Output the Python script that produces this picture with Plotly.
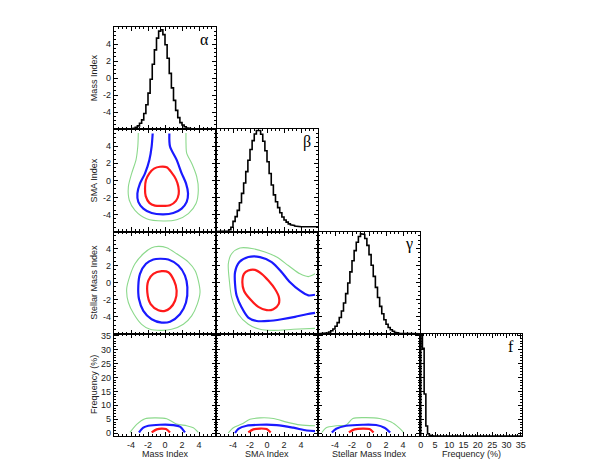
import numpy as np
import plotly.graph_objects as go
from plotly.subplots import make_subplots

# ---------------- data ----------------
param_names = ["Mass Index", "SMA Index", "Stellar Mass Index", "Frequency (%)"]
diag_labels = ["α", "β", "γ", "f"]

idx_tickvals = [-4, -2, 0, 2, 4]
idx_ticktext = ["-4", "-2", "0", "2", "4"]
freq_tickvals = [0, 5, 10, 15, 20, 25, 30, 35]
freq_ticktext = ["0", "5", "10", "15", "20", "25", "30", "35"]

# histogram bins for the three index parameters (bin width 0.25 on [-6, 6])
idx_bin_edges = np.linspace(-6, 6, 49)

alpha_hist = [0, 0, 0, 0, 0, 0, 0.01, 0.03, 0.06, 0.12, 0.22, 0.4, 0.7, 1.1, 1.84, 2.88,
              4.24, 5.87, 7.63, 9.32, 10.69, 11.52, 11.67, 11.1, 9.92, 8.33, 6.56, 4.86, 3.39,
              2.21, 1.36, 0.78, 0.5, 0.3, 0.17, 0.09, 0.04, 0.02, 0.01, 0, 0, 0, 0, 0, 0, 0,
              0, 0]

beta_hist = [0, 0, 0, 0, 0, 0.05, 0.2, 0.5, 1.19, 1.75, 2.48, 3.38, 4.47, 5.7, 7.03, 8.36,
             9.62, 10.67, 11.45, 11.85, 11.85, 11.41, 10.6, 9.48, 8.19, 6.81, 5.45, 4.3, 3.5, 2.8,
             2.2, 1.7, 1.35, 1.1, 0.9, 0.78, 0.7, 0.64, 0.6, 0.57, 0.55, 0.55, 0.55, 0.55, 0.55,
             0.55, 0.55, 0.55]

gamma_hist = [0.01, 0.02, 0.04, 0.07, 0.12, 0.21, 0.35, 0.56, 0.88, 1.31, 1.91, 2.67, 3.61,
              4.71, 5.95, 7.26, 8.56, 9.75, 10.73, 11.41, 11.73, 11.65, 11.18, 10.37, 9.29,
              8.04, 6.73, 5.44, 4.25, 3.21, 2.34, 1.65, 1.12, 0.74, 0.47, 0.29, 0.17, 0.1,
              0.055, 0.03, 0.015, 0.01, 0, 0, 0, 0, 0, 0]

# frequency histogram (bin width 0.6 %)
freq_bin_edges = np.arange(0, 35.41, 0.6)
freq_hist = [36.5, 31.4, 15.0, 3.6, 0.8, 0.25, 0.08] + [0] * 52

# 2-D credible contours: (x, y) points
mass_sma_red = [(-0.59, 1.6), (-1.29, 1.38), (-1.84, 0.83), (-2.24, 0.04), (-2.35, -0.95),
                (-2.27, -1.85), (-1.84, -2.64), (-1.18, -2.96), (-0.39, -3.0), (0.59, -2.92),
                (1.29, -2.41), (1.61, -1.62), (1.57, -0.75), (1.29, 0.12), (0.78, 0.91),
                (0.2, 1.54), (-0.59, 1.6)]
mass_sma_blue = [(-1.45, 5.5), (-1.57, 4.0), (-1.84, 2.4), (-2.35, 0.83), (-2.94, -0.36),
                 (-3.25, -1.54), (-3.14, -2.52), (-2.55, -3.31), (-1.57, -3.83), (-0.2, -3.98),
                 (0.98, -3.83), (1.96, -3.31), (2.55, -2.52), (2.71, -1.54), (2.47, -0.36),
                 (1.96, 0.83), (1.37, 2.41), (0.59, 3.98), (0.51, 5.5)]
mass_sma_green = [(-3.14, 5.56), (-3.2, 4.0), (-3.41, 2.41), (-3.92, 0.83), (-4.31, -0.75),
                  (-4.2, -2.33), (-3.53, -3.51), (-2.16, -4.5), (-0.2, -4.77), (1.37, -4.62),
                  (2.75, -3.9), (3.65, -2.72), (3.92, -1.14), (3.73, 0.43), (3.14, 2.01),
                  (2.55, 3.2), (2.47, 4.38), (2.47, 5.56)]

mass_star_red = [(-0.39, 1.34), (0.39, 1.22), (1.06, 0.24), (1.37, -0.95), (1.18, -2.13),
                 (0.59, -3.0), (0.0, -3.31), (-0.78, -3.23), (-1.69, -2.52), (-2.08, -1.14),
                 (-1.96, 0.24), (-1.37, 1.03), (-0.39, 1.34)]
mass_star_blue = [(-0.59, 2.8), (0.39, 2.72), (1.57, 2.01), (2.35, 0.83), (2.63, -0.55),
                  (2.47, -2.33), (1.76, -3.71), (0.59, -4.58), (-0.39, -4.69), (-1.57, -4.3),
                  (-2.55, -3.31), (-3.06, -1.93), (-3.14, -0.36), (-2.94, 1.03), (-2.24, 2.21),
                  (-1.37, 2.72), (-0.59, 2.8)]
mass_star_green = [(-0.78, 4.26), (0.2, 4.1), (1.37, 3.39), (2.75, 2.41), (3.53, 1.42),
                   (3.92, 0.24), (4.12, -1.14), (3.8, -2.52), (3.14, -3.9), (2.16, -4.89),
                   (0.78, -5.48), (-0.39, -5.6), (-1.76, -5.48), (-2.75, -4.89), (-3.65, -3.71),
                   (-4.31, -2.33), (-4.51, -0.75), (-4.12, 0.83), (-3.53, 2.21), (-2.55, 3.39),
                   (-1.57, 4.1), (-0.78, 4.26)]

sma_star_red = [(-2.2, 1.42), (-1.41, 1.5), (-0.63, 1.03), (0.16, 0.24), (0.94, -0.75),
                (1.41, -1.74), (1.37, -2.52), (0.75, -3.12), (-0.04, -3.23), (-1.02, -2.84),
                (-2.0, -1.93), (-2.71, -0.95), (-2.9, 0.04), (-2.71, 1.03), (-2.2, 1.42)]
sma_star_blue = [(5.65, -1.42), (4.86, -1.5), (3.88, -0.95), (2.71, 0.04), (1.73, 1.22),
                 (0.55, 2.41), (-0.82, 3.0), (-2.2, 3.0), (-3.25, 2.41), (-3.76, 1.22),
                 (-3.76, -0.16), (-3.57, -1.54), (-2.98, -2.92), (-2.2, -4.1), (-1.22, -4.5),
                 (0.16, -4.5), (1.73, -4.3), (3.29, -4.02), (4.67, -3.71), (5.65, -3.55)]
sma_star_green = [(5.65, 1.03), (4.86, 0.71), (3.88, 1.03), (2.51, 2.01), (1.14, 3.0),
                  (-0.24, 3.59), (-1.61, 3.98), (-3.18, 4.06), (-4.16, 3.39), (-4.55, 2.21),
                  (-4.43, 0.24), (-4.16, -1.74), (-3.37, -3.71), (-2.2, -4.89), (-0.82, -5.48),
                  (0.75, -5.6), (3.1, -5.48), (5.65, -5.37)]

mass_freq_red = [(-1.57, 0.3), (-0.98, 1.4), (-0.39, 1.7), (0.12, 1.5), (0.59, 0.3)]
mass_freq_blue = [(-3.06, 0.3), (-2.55, 2.0), (-1.96, 2.7), (-0.59, 3.05), (0.98, 2.95),
                  (1.76, 2.4), (2.35, 0.3)]
mass_freq_green = [(-4.12, 0.3), (-3.33, 3.2), (-2.35, 5.2), (-1.18, 5.5), (0.2, 5.2),
                   (1.37, 3.3), (2.55, 2.7), (3.33, 2.0), (3.92, 0.3)]

sma_freq_red = [(-2.2, 0.3), (-1.61, 1.4), (-0.82, 1.7), (-0.04, 1.5), (0.43, 0.3)]
sma_freq_blue = [(-3.76, 0.1), (-3.37, 1.6), (-2.39, 2.7), (-0.82, 3.05), (1.14, 2.95),
                 (3.1, 2.0), (4.67, 1.0), (5.65, 0.8)]
sma_freq_green = [(-4.55, 0.1), (-3.96, 2.0), (-2.98, 3.3), (-2.0, 5.0), (-0.82, 5.5),
                  (0.75, 5.3), (2.31, 4.0), (3.88, 3.0), (5.65, 2.7)]

star_freq_red = [(-2.37, 0.3), (-1.71, 1.4), (-0.73, 1.7), (0.06, 1.5), (0.53, 0.3)]
star_freq_blue = [(-4.37, 0.3), (-3.86, 1.6), (-2.69, 2.7), (-0.73, 3.05), (0.84, 2.95),
                  (1.82, 2.0), (2.49, 0.3)]
star_freq_green = [(-5.55, 0.3), (-5.04, 2.0), (-3.86, 2.7), (-2.69, 3.0), (-1.9, 5.3),
                   (-0.33, 5.6), (1.24, 5.3), (2.61, 4.0), (3.51, 2.0), (4.06, 0.3)]

# ---------------- styling ----------------
IDX_RANGE = [-6, 6]
FREQ_X_RANGE = [-0.25, 35.45]
FREQ_Y_RANGE = [-0.97, 35.6]
RED, BLUE, GREEN = "#ff1a1a", "#1a1aff", "#8cd98c"
FONT = "Liberation Sans, Arial, sans-serif"

specs = [[{}, None, None, None],
         [{}, {}, None, None],
         [{}, {}, {}, None],
         [{}, {}, {}, {}]]
fig = make_subplots(rows=4, cols=4, specs=specs,
                    horizontal_spacing=0, vertical_spacing=0)


def step_xy(edges, heights, base):
    xs = [edges[0]]
    ys = [base]
    for i, h in enumerate(heights):
        xs += [edges[i], edges[i + 1]]
        ys += [base + h, base + h]
    return xs, ys


# diagonal histograms
for k, hist in enumerate([alpha_hist, beta_hist, gamma_hist]):
    xs, ys = step_xy(idx_bin_edges, hist, IDX_RANGE[0])
    fig.add_trace(go.Scatter(x=xs, y=ys, mode="lines",
                             line=dict(color="black", width=1.6)),
                  row=k + 1, col=k + 1)
xs, ys = step_xy(freq_bin_edges, freq_hist, FREQ_Y_RANGE[0])
fig.add_trace(go.Scatter(x=xs, y=ys, mode="lines",
                         line=dict(color="black", width=1.6)), row=4, col=4)

panels = {
    (2, 1): (mass_sma_green, mass_sma_blue, mass_sma_red),
    (3, 1): (mass_star_green, mass_star_blue, mass_star_red),
    (3, 2): (sma_star_green, sma_star_blue, sma_star_red),
    (4, 1): (mass_freq_green, mass_freq_blue, mass_freq_red),
    (4, 2): (sma_freq_green, sma_freq_blue, sma_freq_red),
    (4, 3): (star_freq_green, star_freq_blue, star_freq_red),
}
for (r, c), (g, b, rd) in panels.items():
    for pts, col, w in [(g, GREEN, 1.1), (b, BLUE, 2.2), (rd, RED, 2.2)]:
        fig.add_trace(go.Scatter(x=[p[0] for p in pts], y=[p[1] for p in pts],
                                 mode="lines",
                                 line=dict(color=col, width=w, shape="spline",
                                           smoothing=0.8)),
                      row=r, col=c)

common = dict(showline=True, linecolor="black", linewidth=1.2, mirror="allticks",
              ticks="inside", ticklen=4, tickwidth=1, tickcolor="black",
              showgrid=False, zeroline=False, automargin=False,
              tickfont=dict(family=FONT, size=9, color="#222"))

for r in range(1, 5):
    for c in range(1, r + 1):
        if c < 4:
            fig.update_xaxes(range=IDX_RANGE, tickvals=idx_tickvals, ticktext=idx_ticktext,
                             minor=dict(ticks="inside", ticklen=2, dtick=0.5,
                                        tick0=0, tickcolor="black"),
                             row=r, col=c, **common)
        else:
            fig.update_xaxes(range=FREQ_X_RANGE, tickvals=freq_tickvals,
                             ticktext=freq_ticktext,
                             minor=dict(ticks="inside", ticklen=2, dtick=1,
                                        tick0=0, tickcolor="black"),
                             row=r, col=c, **common)
        if r < 4:
            fig.update_yaxes(range=IDX_RANGE, tickvals=idx_tickvals, ticktext=idx_ticktext,
                             minor=dict(ticks="inside", ticklen=2, dtick=0.5,
                                        tick0=0, tickcolor="black"),
                             row=r, col=c, **common)
        else:
            fig.update_yaxes(range=FREQ_Y_RANGE, tickvals=freq_tickvals,
                             ticktext=freq_ticktext,
                             minor=dict(ticks="inside", ticklen=2, dtick=1,
                                        tick0=0, tickcolor="black"),
                             row=r, col=c, **common)
        fig.update_xaxes(showticklabels=(r == 4), row=r, col=c)
        fig.update_yaxes(showticklabels=(c == 1), row=r, col=c)

# axis titles
title_font = dict(family=FONT, size=9, color="#222")
for c in range(1, 5):
    fig.add_annotation(text=param_names[c - 1], xref="x domain", yref="y domain",
                       x=0.5, y=0, yshift=-18, xanchor="center", yanchor="middle",
                       showarrow=False, font=title_font, row=4, col=c)
for r in range(1, 5):
    fig.add_annotation(text=param_names[r - 1], xref="x domain", yref="y domain",
                       x=0, y=0.5, xshift=-20, xanchor="center", yanchor="middle",
                       textangle=-90, showarrow=False, font=title_font, row=r, col=1)

for k, lab in enumerate(diag_labels):
    fig.add_annotation(text=lab, xref="x domain", yref="y domain", x=0.89, y=0.88,
                       xanchor="center", yanchor="middle", showarrow=False,
                       font=dict(family="Liberation Serif, serif", size=16, color="black"),
                       row=k + 1, col=k + 1)

fig.update_layout(width=598, height=471, showlegend=False,
                  margin=dict(l=106, r=84, t=19, b=43),
                  paper_bgcolor="white", plot_bgcolor="white",
                  font=dict(family=FONT, size=9))

fig.write_html("out.html")
